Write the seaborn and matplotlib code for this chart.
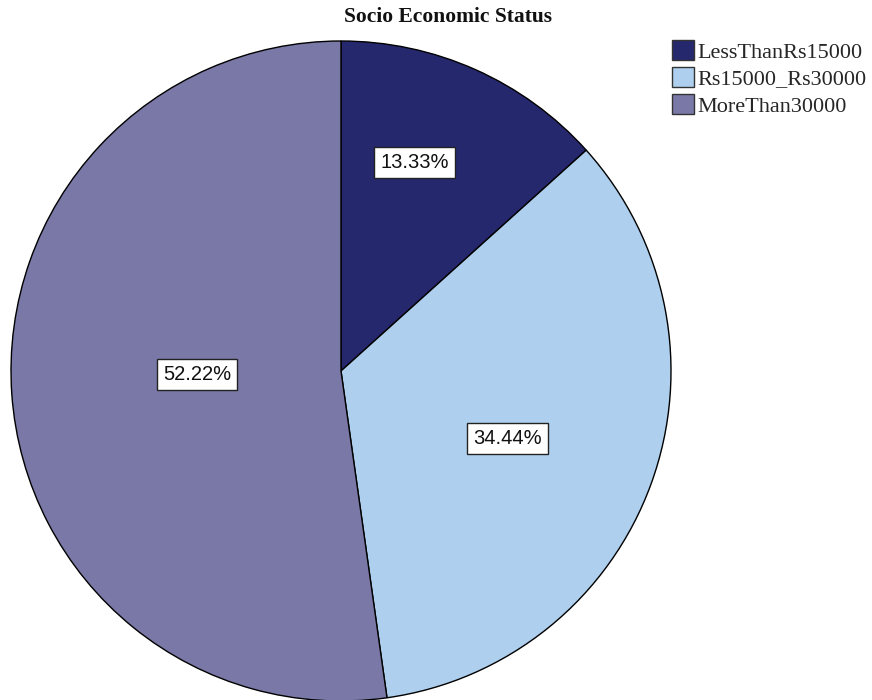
import matplotlib
matplotlib.use("Agg")
import matplotlib.pyplot as plt
import numpy as np
import seaborn as sns

# Share of respondents by monthly income bracket
categories = ["LessThanRs15000", "Rs15000_Rs30000", "MoreThan30000"]
percentages = [13.33, 34.44, 52.22]
slice_colors = ["#26286E", "#AED0EE", "#7978A7"]
# radial position (fraction of the radius) and angular nudge (deg) of each label
label_radius = [0.67, 0.545, 0.437]
label_turn = [4.5, -2.0, -2.5]

sns.set_theme(style="white")
palette = sns.color_palette(slice_colors)

fig = plt.figure(figsize=(8.72, 7.0), dpi=100)
fig.patch.set_facecolor("white")

# square axes holding a unit-radius pie
ax = fig.add_axes([11 / 872, -1 / 700, 660 / 872, 660 / 700])
wedges, _ = ax.pie(
    percentages,
    colors=palette,
    startangle=90,
    counterclock=False,
    radius=1.0,
    wedgeprops=dict(edgecolor="black", linewidth=1.0),
)
ax.set_xlim(-1, 1)
ax.set_ylim(-1, 1)
ax.set_aspect("auto")
ax.axis("off")

for w, pct, r, turn in zip(wedges, percentages, label_radius, label_turn):
    mid = np.deg2rad((w.theta1 + w.theta2) / 2 + turn)
    ax.text(
        r * np.cos(mid), r * np.sin(mid), f"{pct:.2f}%",
        ha="center", va="center", fontsize=14.5, family="Liberation Sans",
        color="#111111",
        bbox=dict(boxstyle="square,pad=0.3", facecolor="white",
                  edgecolor="#222222", linewidth=1.0),
    )

fig.text(448 / 872, 1 - 17 / 700, "Socio Economic Status",
         ha="center", va="center", fontsize=15.5, fontweight="bold",
         family="Liberation Serif", color="#111111")

handles = [plt.Rectangle((0, 0), 1, 1, facecolor=c, edgecolor="#333333", linewidth=1.0)
           for c in palette]
leg = fig.legend(
    handles, categories,
    loc="upper left", bbox_to_anchor=(672 / 872, 1 - 40 / 700),
    frameon=False, prop=dict(family="Liberation Serif", size=16),
    handlelength=1.0, handleheight=1.0, handletextpad=0.15,
    labelspacing=0.2, borderpad=0, borderaxespad=0,
)

fig.savefig("out.png", dpi=100)
